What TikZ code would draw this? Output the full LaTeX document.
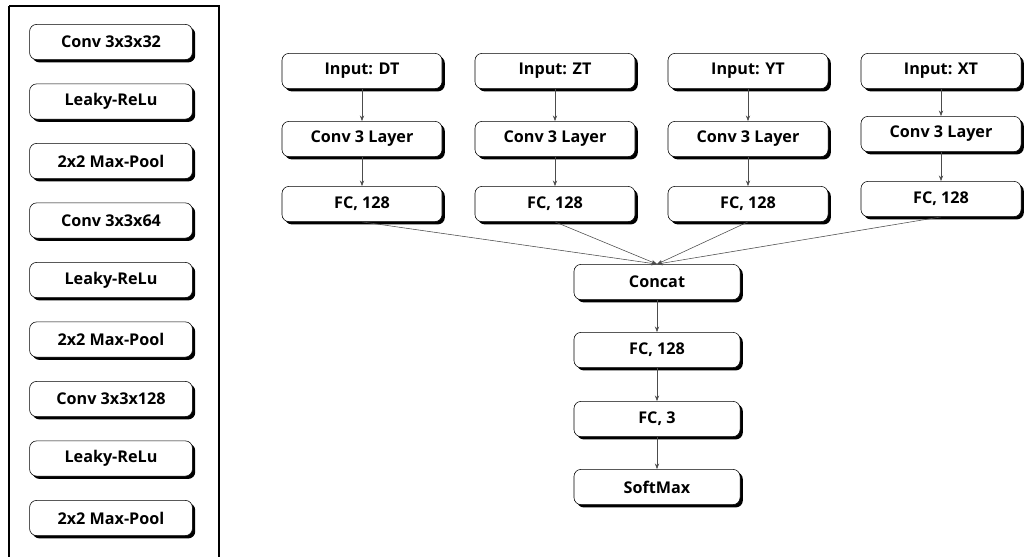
\documentclass[tikz,border=0pt]{standalone}
\usepackage{fontspec}
\newfontfamily\boxfont{Open Sans}
\usetikzlibrary{shadows,arrows.meta}

\tikzset{
  layer/.style={draw, thin, rounded corners=5pt, fill=white,
    minimum width=4cm, minimum height=0.88cm, inner sep=0pt,
    font=\boxfont\bfseries\fontsize{11.5}{13}\selectfont,
    drop shadow={shadow xshift=2pt, shadow yshift=-2pt, fill=black, opacity=1}},
  flow/.style={draw=black!70, thin, -{Stealth[length=4pt,width=3pt]}}
}

\begin{document}
\begin{tikzpicture}[x=0.025cm,y=-0.025cm]
   \useasboundingbox (0,0) rectangle (1025,557);

   % left column: layers of the conv block
   \draw[line width=1.4pt] (9,6) -- (219,6) -- (219,570) (9,6) -- (9,570);
   \foreach \txt [count=\i] in {Conv 3x3x32, Leaky-ReLu, 2x2 Max-Pool,
       Conv 3x3x64, Leaky-ReLu, 2x2 Max-Pool,
       Conv 3x3x128, Leaky-ReLu, 2x2 Max-Pool}
     \node[layer, minimum width=4.07cm] (blk\i) at (111,{42+59.5*(\i-1)}) {\txt};

   % four input branches
   \foreach \nm/\lbl/\xx/\yc/\yf in {dt/DT/362/139/204, zt/ZT/555/139/204,
       yt/YT/748/139/204, xt/XT/941/134/199}
   {
     \node[layer] (in\nm) at (\xx,71) {Input: \lbl};
     \node[layer] (conv\nm) at (\xx,\yc) {Conv 3 Layer};
     \node[layer] (fc\nm) at (\xx,\yf) {FC, 128};
     \draw[flow] (in\nm) -- (conv\nm);
     \draw[flow] (conv\nm) -- (fc\nm);
   }

   % merged part
   \node[layer, minimum width=4.15cm] (concat) at (657,282) {Concat};
   \node[layer, minimum width=4.15cm] (fcm) at (657,350) {FC, 128};
   \node[layer, minimum width=4.15cm] (fcout) at (657,419) {FC, 3};
   \node[layer, minimum width=4.15cm] (softmax) at (657,487) {SoftMax};

   \foreach \nm in {dt,zt,yt,xt}
     \draw[flow] (fc\nm.south) -- (concat.north);
   \draw[flow] (concat) -- (fcm);
   \draw[flow] (fcm) -- (fcout);
   \draw[flow] (fcout) -- (softmax);
\end{tikzpicture}
\end{document}
